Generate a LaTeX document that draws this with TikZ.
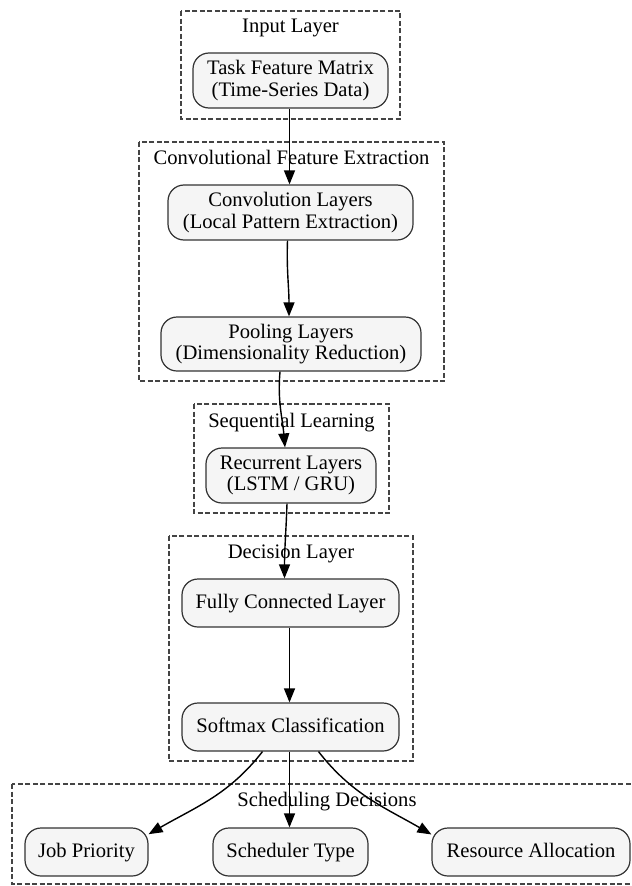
\documentclass[tikz,border=0pt]{standalone}
\usepackage{fontspec}
\setmainfont{Liberation Serif}
\usepackage{tikz}
\usetikzlibrary{positioning,arrows.meta}
\definecolor{boxfill}{HTML}{F5F5F5}
\definecolor{boxline}{HTML}{333333}
\definecolor{dashline}{HTML}{444444}
\tikzset{
  block/.style={draw=boxline,fill=boxfill,line width=1.2bp,rounded corners=16bp,
    align=center,inner sep=0pt,font=\fontsize{20.6bp}{21.5bp}\selectfont},
  oneline/.style={text height=14.5bp,text depth=4.5bp},
  cluster/.style={draw=dashline,line width=1.1bp,dash pattern=on 5bp off 2.5bp},
  clabel/.style={inner sep=0pt,oneline,font=\fontsize{20.6bp}{21.5bp}\selectfont},
  flow/.style={line width=1.4bp,-{Triangle[length=14bp,width=11bp]}}
}

\begin{document}
\begin{tikzpicture}[x=1bp,y=1bp]
      \useasboundingbox (0,0) rectangle (632,-886);
      % clusters
      \draw[cluster] (181,-11) rectangle (400,-119);
      \node[clabel] (inputlbl) at (290.5,-27) {Input Layer};
      \draw[cluster] (139,-142) rectangle (444,-381);
      \node[clabel] (convlbl) at (291.5,-159) {Convolutional Feature Extraction};
      \draw[cluster] (194,-404) rectangle (389,-513);
      \node[clabel] (seqlbl) at (291.5,-422) {Sequential Learning};
      \draw[cluster] (169,-536) rectangle (413,-761);
      \node[clabel] (declbl) at (291,-553) {Decision Layer};
      \draw[cluster] (12,-784) rectangle (645,-884);
      \node[clabel] (schedlbl) at (327,-801) {Scheduling Decisions};
      % layers
      \node[block,minimum width=195bp,minimum height=55bp] (task) at (290.5,-80.5) {Task Feature Matrix\\(Time-Series Data)};
      \node[block,minimum width=245bp,minimum height=55bp] (conv) at (290.5,-212.5) {Convolution Layers\\(Local Pattern Extraction)};
      \node[block,minimum width=260bp,minimum height=54bp] (pool) at (291,-344) {Pooling Layers\\(Dimensionality Reduction)};
      \node[block,minimum width=170bp,minimum height=55bp] (rec) at (291,-475.5) {Recurrent Layers\\(LSTM / GRU)};
      \node[block,oneline,minimum width=217bp,minimum height=48bp] (fc) at (290.5,-603) {Fully Connected Layer};
      \node[block,oneline,minimum width=217bp,minimum height=48bp] (soft) at (290.5,-727) {Softmax Classification};
      \node[block,oneline,minimum width=123bp,minimum height=48bp] (job) at (86.5,-852) {Job Priority};
      \node[block,oneline,minimum width=155bp,minimum height=48bp] (sched) at (290.5,-852) {Scheduler Type};
      \node[block,oneline,minimum width=198bp,minimum height=48bp] (res) at (531,-852) {Resource Allocation};
      % connections
      \draw[flow] ([xshift=-1bp]task.south) -- ([xshift=-1bp]conv.north);
      \draw[flow] ([xshift=-3bp]conv.south) to[out=-92,in=90] ([xshift=-2bp]pool.north);
      \draw[flow] ([xshift=-11bp]pool.south) to[out=-95,in=95] ([xshift=-6bp]rec.north);
      \draw[flow] ([xshift=-4bp]rec.south) to[out=-92,in=90] ([xshift=-6bp]fc.north);
      \draw[flow] ([xshift=-1bp]fc.south) -- ([xshift=-1bp]soft.north);
      \draw[flow] ([xshift=-28bp]soft.south) to[out=-128,in=30] (job.16);
      \draw[flow] ([xshift=-1bp]soft.south) -- ([xshift=-1bp]sched.north);
      \draw[flow] ([xshift=28bp]soft.south) to[out=-52,in=150] (res.170);
\end{tikzpicture}
\end{document}
